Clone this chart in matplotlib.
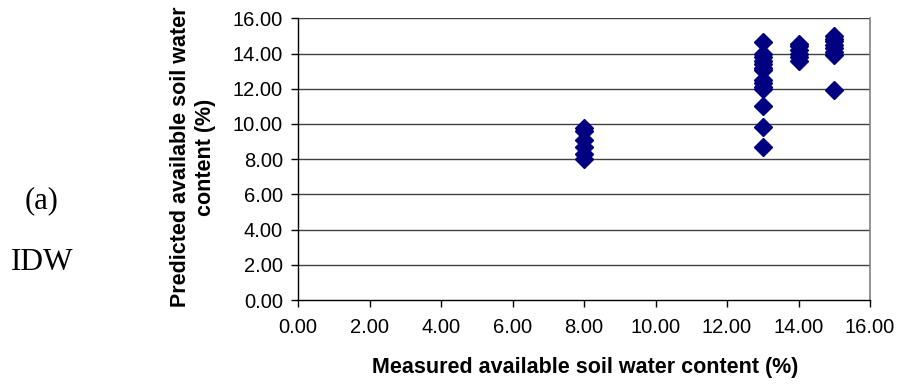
import matplotlib
matplotlib.use("Agg")
import matplotlib.pyplot as plt

# Measured (x) vs predicted (y) available soil water content (%)
x_8 = [8.0] * 6
y_8 = [9.75, 9.6, 9.1, 8.7, 8.3, 8.0]

x_13 = [13.0] * 14
y_13 = [14.65, 14.0, 13.8, 13.6, 13.4, 13.2, 13.05, 12.5, 12.3, 12.1, 12.0, 11.0, 9.8, 8.7]

x_14 = [14.0] * 6
y_14 = [14.55, 14.4, 14.2, 14.0, 13.8, 13.6]

x_15 = [15.0] * 8
y_15 = [15.0, 14.85, 14.7, 14.5, 14.3, 14.1, 13.9, 11.9]

x_ticks = [0, 2, 4, 6, 8, 10, 12, 14, 16]
y_ticks = [0, 2, 4, 6, 8, 10, 12, 14, 16]

plt.rcParams['font.family'] = ['Liberation Sans', 'DejaVu Sans']

fig = plt.figure(figsize=(9.01, 3.85), dpi=100)
ax = fig.add_axes([298 / 901, 1 - 300 / 385, (870 - 298) / 901, (300 - 18.3) / 385])

xs = x_8 + x_13 + x_14 + x_15
ys = y_8 + y_13 + y_14 + y_15
ax.plot(xs, ys, linestyle='none', marker='D', markersize=9.5,
        color='#000080', markeredgecolor='#000080', zorder=3, clip_on=False)

ax.set_xlim(0, 16)
ax.set_ylim(0, 16)
ax.set_xticks(x_ticks)
ax.set_yticks(y_ticks)
ax.set_xticklabels([f"{v:.2f}" for v in x_ticks])
ax.set_yticklabels([f"{v:.2f}" for v in y_ticks])

for yv in y_ticks[1:]:
    ax.axhline(yv, color='#404040', linewidth=1.0, zorder=1)

ax.spines['top'].set_visible(False)
ax.spines['right'].set_color('#808080')
ax.spines['right'].set_linewidth(1.2)
ax.spines['left'].set_color('black')
ax.spines['bottom'].set_color('black')
ax.spines['left'].set_linewidth(1.0)
ax.spines['bottom'].set_linewidth(1.0)

ax.tick_params(axis='both', direction='out', length=4.8, width=1.0, labelsize=14.5, colors='black')
ax.tick_params(axis='x', pad=8.5)
ax.tick_params(axis='y', pad=6)

fig.text(585 / 901, 1 - 368 / 385, "Measured available soil water content (%)",
         fontsize=15.5, fontweight='bold', ha='center', va='center')
fig.text(193 / 901, 1 - 157 / 385, "Predicted available soil water\ncontent (%)",
         fontsize=15.5, fontweight='bold', ha='center', va='center', rotation=90,
         multialignment='center', linespacing=1.2)

fig.text(42 / 901, 1 - 201 / 385, "(a)", fontsize=22, family=['Liberation Serif', 'DejaVu Serif'],
         ha='center', va='center')
fig.text(42 / 901, 1 - 263 / 385, "IDW", fontsize=22.5, family=['Liberation Serif', 'DejaVu Serif'],
         ha='center', va='center')

fig.savefig("out.png", dpi=100)
